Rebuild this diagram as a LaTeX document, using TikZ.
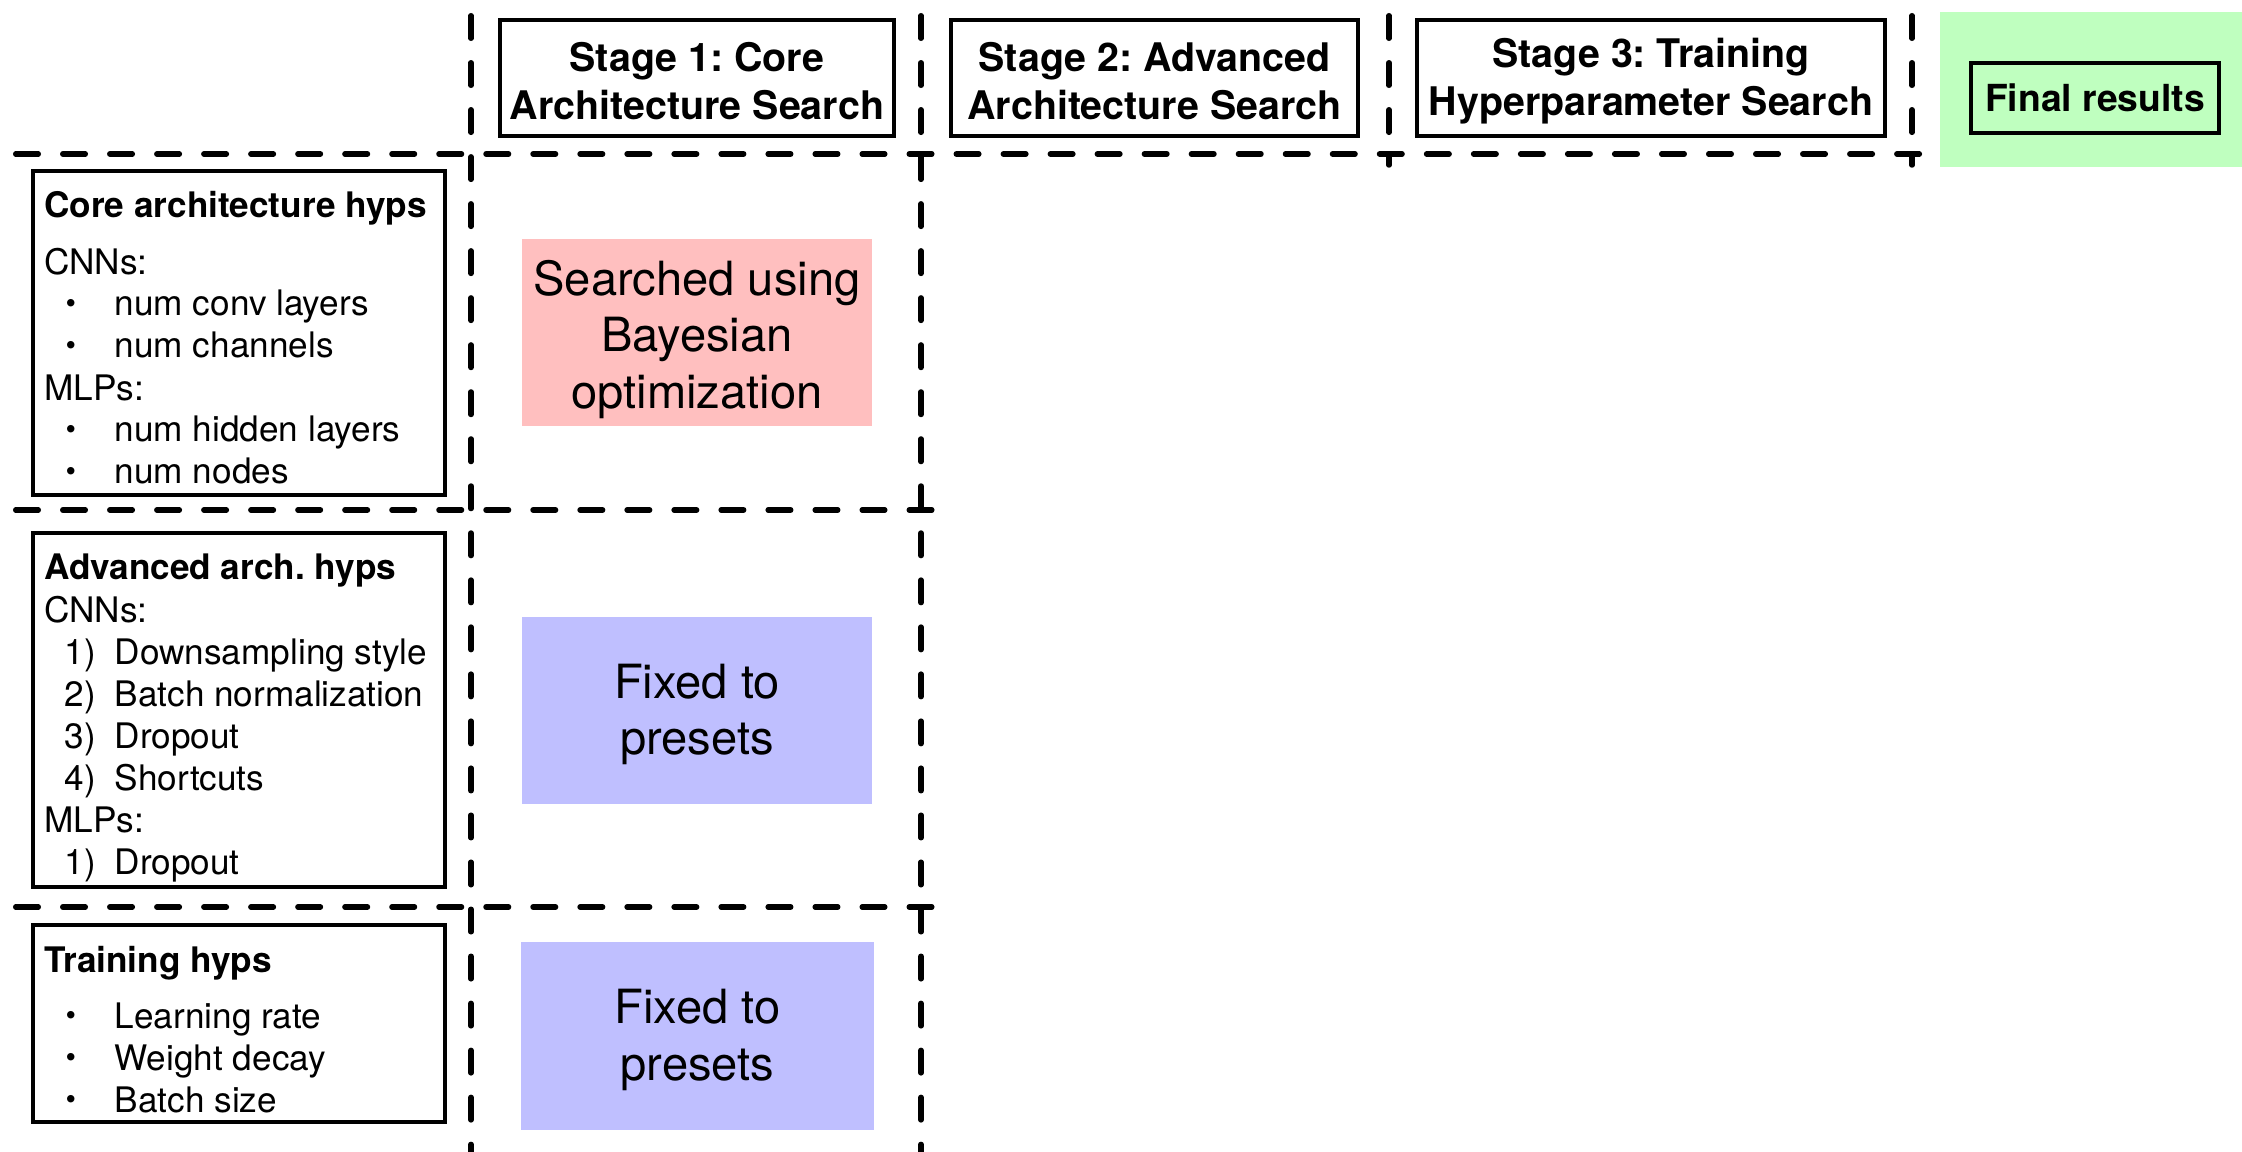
\documentclass[tikz,border=0pt]{standalone}
\usepackage{fontspec}
\setmainfont{TeX Gyre Heros}
\frenchspacing

% list markers used inside the hyperparameter boxes
\newcommand\hypitem[1]{\makebox[0.705cm][l]{\hspace{0.215cm}\raisebox{0.6pt}{\fontsize{8.5}{8.5}\selectfont\textbullet}}#1}
\newcommand\hypnum[2]{\makebox[0.705cm][l]{\hspace{0.205cm}#1)}#2}

\definecolor{searchpink}{RGB}{255,191,191}
\definecolor{presetblue}{RGB}{191,191,255}
\definecolor{finalgreen}{RGB}{191,255,191}

\tikzset{
  divider/.style={line width=0.055cm, dash pattern=on 0.225cm off 0.245cm, line cap=round},
  stagebox/.style={draw, line width=1.1pt, inner sep=0pt, minimum height=1.16cm},
  stagetext/.style={inner sep=0pt, align=center, font=\fontsize{11.2}{13.8}\selectfont\bfseries},
  hypbox/.style={draw, line width=1.1pt, inner sep=0pt, minimum width=4.12cm},
  hypline/.style={anchor=base west, inner sep=0pt, font=\fontsize{10}{12}\selectfont},
  hyphead/.style={hypline, font=\fontsize{10}{12}\selectfont\bfseries},
  status/.style={inner sep=0pt, minimum width=3.5cm, minimum height=1.87cm},
  statustext/.style={inner sep=0pt, align=center, font=\fontsize{13.4}{16}\selectfont},
}

\begin{document}
\begin{tikzpicture}[x=0.01cm, y=-0.01cm]
\useasboundingbox (0,0) rectangle (2242,1152);

% final results panel
\node[fill=finalgreen, inner sep=0pt, minimum width=3.02cm, minimum height=1.55cm] (finalbg) at (2091,89.5) {};
\node[draw, line width=1pt, inner sep=0pt, minimum width=2.48cm, minimum height=0.70cm,
      font=\fontsize{10.6}{12}\selectfont\bfseries] (final) at (2095,98) {Final results};

% stage headers
\node[stagebox, minimum width=3.94cm] (stage1) at (697,78) {};
\node[stagebox, minimum width=4.07cm] (stage2) at (1154.5,78) {};
\node[stagebox, minimum width=4.68cm] (stage3) at (1651,78) {};
\node[stagetext] (stage1t) at (697,81) {Stage 1: Core\\Architecture Search};
\node[stagetext] (stage2t) at (1154.5,81) {Stage 2: Advanced\\Architecture Search};
\node[stagetext] (stage3t) at (1651,81) {Stage 3: Training\\Hyperparameter Search};

% grid dividers
\draw[divider] (471,15.75) -- (471,1170);
\draw[divider] (921,15.75) -- (921,1170);
\draw[divider] (1389,15.75) -- (1389,165);
\draw[divider] (1912,15.75) -- (1912,165);
\draw[divider] (15.75,154) -- (1920,154);
\draw[divider] (15.75,510) -- (932,510);
\draw[divider] (15.75,907) -- (932,907);

% core architecture hyperparameters
\node[hypbox, minimum height=3.24cm] (corebox) at (239,333) {};
\node[hyphead] (coreh) at (43.5,218) {Core architecture hyps};
\node[hypline] (core1) at (43.5,275) {CNNs:};
\node[hypline] (core2) at (43.5,316) {\hypitem{num conv layers}};
\node[hypline] (core3) at (43.5,358) {\hypitem{num channels}};
\node[hypline] (core4) at (43.5,401) {MLPs:};
\node[hypline] (core5) at (43.5,442) {\hypitem{num hidden layers}};
\node[hypline] (core6) at (43.5,484) {\hypitem{num nodes}};

% advanced architecture hyperparameters
\node[hypbox, minimum height=3.54cm] (advbox) at (239,710) {};
\node[hyphead] (advh) at (43.5,580) {Advanced arch. hyps};
\node[hypline] (adv1) at (43.5,622) {CNNs:};
\node[hypline] (adv2) at (43.5,664) {\hypnum{1}{Downsampling style}};
\node[hypline] (adv3) at (43.5,706) {\hypnum{2}{Batch normalization}};
\node[hypline] (adv4) at (43.5,748) {\hypnum{3}{Dropout}};
\node[hypline] (adv5) at (43.5,790) {\hypnum{4}{Shortcuts}};
\node[hypline] (adv6) at (43.5,832) {MLPs:};
\node[hypline] (adv7) at (43.5,874) {\hypnum{1}{Dropout}};

% training hyperparameters
\node[hypbox, minimum height=1.97cm] (trainbox) at (239,1023.5) {};
\node[hyphead] (trainh) at (43.5,972) {Training hyps};
\node[hypline] (train1) at (43.5,1028) {\hypitem{Learning rate}};
\node[hypline] (train2) at (43.5,1070) {\hypitem{Weight decay}};
\node[hypline] (train3) at (43.5,1112) {\hypitem{Batch size}};

% stage 1 treatment of each group
\node[status, fill=searchpink] (s1core) at (697,332.5) {};
\node[status, fill=presetblue] (s1adv) at (697,710.5) {};
\node[status, fill=presetblue, minimum width=3.53cm, minimum height=1.88cm] (s1train) at (697.5,1036) {};
\node[statustext] (s1coret) at (697,339.5) {Searched using\\Bayesian\\optimization};
\node[statustext] (s1advt) at (697,714.5) {Fixed to\\presets};
\node[statustext] (s1traint) at (697.5,1040) {Fixed to\\presets};
\end{tikzpicture}
\end{document}
